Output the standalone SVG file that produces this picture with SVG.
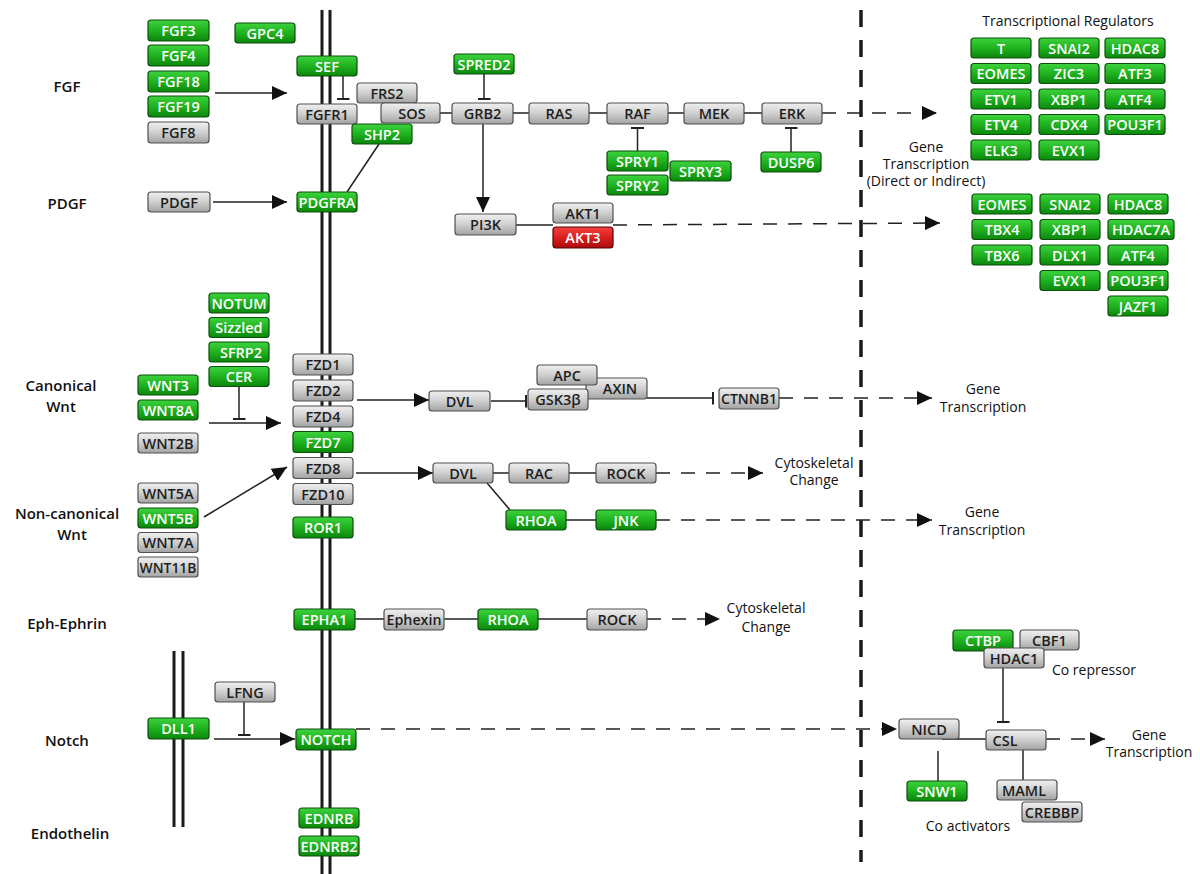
<svg xmlns="http://www.w3.org/2000/svg" width="1200" height="874" viewBox="0 0 1200 874">
<defs>
<linearGradient id="gg" x1="0" y1="0" x2="0" y2="1"><stop offset="0" stop-color="#3fd23f"/><stop offset="0.5" stop-color="#1fb21f"/><stop offset="1" stop-color="#0c860c"/></linearGradient>
<linearGradient id="gy" x1="0" y1="0" x2="0" y2="1"><stop offset="0" stop-color="#f0f0f0"/><stop offset="0.5" stop-color="#cfcfcf"/><stop offset="1" stop-color="#a2a2a2"/></linearGradient>
<linearGradient id="gr" x1="0" y1="0" x2="0" y2="1"><stop offset="0" stop-color="#f04040"/><stop offset="0.5" stop-color="#dc1e1e"/><stop offset="1" stop-color="#a80c0c"/></linearGradient>
<marker id="arr" viewBox="0 0 15 14" refX="15" refY="7" markerWidth="15" markerHeight="14" markerUnits="userSpaceOnUse" orient="auto"><path d="M0,0L15,7L0,14z" fill="#111"/></marker>
<marker id="tee" viewBox="0 0 2 13" refX="1" refY="6.5" markerWidth="2" markerHeight="13" markerUnits="userSpaceOnUse" orient="auto"><rect width="2" height="13" fill="#222"/></marker>
</defs>
<style>
.node rect{rx:3;ry:3;stroke-width:1.2}
.node text{font-family:"Open Sans","Liberation Sans",sans-serif;font-size:14.5px;font-weight:600;text-anchor:middle}
.g rect{fill:url(#gg);stroke:#0a4f0a}
.g text{fill:#fff}
.y rect{fill:url(#gy);stroke:#505050}
.y text{fill:#1e1e1e}
.r rect{fill:url(#gr);stroke:#5a0000}
.r text{fill:#fff}
.c line,.c path{stroke:#222;stroke-width:1.5;fill:none}
.c .d{stroke-dasharray:14 11}
.mem{stroke:#1a1a1a;stroke-width:3}
.vd{stroke:#1a1a1a;stroke-width:3.5;stroke-dasharray:17 13}
.lab{font-family:"Open Sans","Liberation Sans",sans-serif;font-size:15px;font-weight:600;fill:#111;text-anchor:middle}
.ann{font-family:"Open Sans","Liberation Sans",sans-serif;font-size:14px;fill:#111;text-anchor:middle}
</style>
<rect width="1200" height="874" fill="#fff"/>
<g id="membranes">
<line class="mem" x1="322" y1="10" x2="322" y2="874"/>
<line class="mem" x1="330" y1="10" x2="330" y2="874"/>
<line class="mem" x1="174" y1="651" x2="174" y2="827"/>
<line class="mem" x1="183" y1="651" x2="183" y2="827"/>
<line class="vd" x1="861" y1="10" x2="861" y2="862"/>
</g>
<g id="labels">
<text class="lab" x="67" y="92">FGF</text>
<text class="lab" x="67" y="209">PDGF</text>
<text class="lab" x="61" y="391">Canonical</text>
<text class="lab" x="61" y="411.5">Wnt</text>
<text class="lab" x="67" y="519">Non-canonical</text>
<text class="lab" x="72" y="539.5">Wnt</text>
<text class="lab" x="67" y="629">Eph-Ephrin</text>
<text class="lab" x="67" y="746">Notch</text>
<text class="lab" x="70" y="839">Endothelin</text>
<text class="ann" x="1068" y="26">Transcriptional Regulators</text>
<text class="ann" x="926" y="152">Gene</text>
<text class="ann" x="926" y="169">Transcription</text>
<text class="ann" x="926" y="186">(Direct or Indirect)</text>
<text class="ann" x="983" y="394">Gene</text>
<text class="ann" x="983" y="412">Transcription</text>
<text class="ann" x="814" y="468">Cytoskeletal</text>
<text class="ann" x="814" y="485">Change</text>
<text class="ann" x="982" y="517">Gene</text>
<text class="ann" x="982" y="535">Transcription</text>
<text class="ann" x="766" y="613">Cytoskeletal</text>
<text class="ann" x="766" y="632">Change</text>
<text class="ann" x="1094" y="675">Co repressor</text>
<text class="ann" x="968" y="831">Co activators</text>
<text class="ann" x="1149" y="740">Gene</text>
<text class="ann" x="1149" y="757">Transcription</text>
</g>
<g id="connectors" class="c">
<line x1="215" y1="93" x2="287" y2="93" marker-end="url(#arr)"/>
<line x1="343" y1="76" x2="343" y2="99" marker-end="url(#tee)"/>
<line x1="440" y1="113" x2="452" y2="113"/>
<line x1="513" y1="113" x2="529" y2="113"/>
<line x1="589" y1="113" x2="607" y2="113"/>
<line x1="668" y1="113" x2="684" y2="113"/>
<line x1="744" y1="113" x2="762" y2="113"/>
<line class="d" x1="822" y1="113" x2="937" y2="113" marker-end="url(#arr)"/>
<line x1="484" y1="74" x2="484" y2="99" marker-end="url(#tee)"/>
<line x1="483" y1="124" x2="483" y2="212" marker-end="url(#arr)"/>
<line x1="637.5" y1="151" x2="637.5" y2="128" marker-end="url(#tee)"/>
<line x1="791" y1="152" x2="791" y2="128" marker-end="url(#tee)"/>
<line x1="379" y1="144" x2="347" y2="192"/>
<line x1="213" y1="202" x2="287" y2="202" marker-end="url(#arr)"/>
<line x1="516" y1="225" x2="553" y2="225"/>
<line class="d" x1="613" y1="225" x2="940" y2="223" marker-end="url(#arr)"/>
<line x1="209" y1="423" x2="281" y2="423" marker-end="url(#arr)"/>
<line x1="239" y1="387" x2="239" y2="419" marker-end="url(#tee)"/>
<line x1="204" y1="517" x2="287" y2="467" marker-end="url(#arr)"/>
<line x1="357" y1="400" x2="429" y2="400" marker-end="url(#arr)"/>
<line x1="491" y1="401" x2="526" y2="401" marker-end="url(#tee)"/>
<line x1="647" y1="398" x2="713" y2="398" marker-end="url(#tee)"/>
<line class="d" x1="779" y1="398" x2="932" y2="398" marker-end="url(#arr)"/>
<line x1="356" y1="473" x2="433" y2="473" marker-end="url(#arr)"/>
<line x1="493" y1="473" x2="509" y2="473"/>
<line x1="569" y1="473" x2="596" y2="473"/>
<line class="d" x1="656" y1="473" x2="763" y2="473" marker-end="url(#arr)"/>
<line x1="487" y1="483" x2="510" y2="510"/>
<line x1="566" y1="520" x2="596" y2="520"/>
<line class="d" x1="656" y1="520" x2="932" y2="520" marker-end="url(#arr)"/>
<line x1="355" y1="619" x2="384" y2="619"/>
<line x1="444" y1="619" x2="478" y2="619"/>
<line x1="538" y1="619" x2="587" y2="619"/>
<line class="d" x1="647" y1="619" x2="720" y2="619" marker-end="url(#arr)"/>
<line x1="244" y1="702" x2="244" y2="735" marker-end="url(#tee)"/>
<line x1="214" y1="739" x2="295" y2="739" marker-end="url(#arr)"/>
<line class="d" x1="356" y1="729" x2="897" y2="729" marker-end="url(#arr)"/>
<line x1="1003" y1="668" x2="1003" y2="722" marker-end="url(#tee)"/>
<line x1="942" y1="739" x2="986" y2="739"/>
<line x1="938" y1="751" x2="938" y2="781"/>
<line x1="1023" y1="750" x2="1023" y2="780"/>
<line class="d" x1="1046" y1="739" x2="1105" y2="739" marker-end="url(#arr)"/>
</g>
<g id="n-fgf3" class="node g"><rect x="148" y="20" width="61" height="21"/><text x="178.5" y="36">FGF3</text></g>
<g id="n-fgf4" class="node g"><rect x="148" y="45" width="61" height="21"/><text x="178.5" y="61">FGF4</text></g>
<g id="n-fgf18" class="node g"><rect x="148" y="71" width="61" height="21"/><text x="178.5" y="87">FGF18</text></g>
<g id="n-fgf19" class="node g"><rect x="148" y="96" width="61" height="21"/><text x="178.5" y="112">FGF19</text></g>
<g id="n-fgf8" class="node y"><rect x="148" y="122" width="61" height="21"/><text x="178.5" y="138">FGF8</text></g>
<g id="n-gpc4" class="node g"><rect x="235" y="23" width="60" height="20"/><text x="265" y="38.5">GPC4</text></g>
<g id="n-sef" class="node g"><rect x="297" y="56" width="60" height="20"/><text x="327" y="71.5">SEF</text></g>
<g id="n-frs2" class="node y"><rect x="357" y="83" width="60" height="20"/><text x="387" y="98.5">FRS2</text></g>
<g id="n-sos" class="node y"><rect x="381" y="103" width="59" height="20"/><text x="412" y="118.5">SOS</text></g>
<g id="n-fgfr1" class="node y"><rect x="297" y="104" width="60" height="20"/><text x="327" y="119.5">FGFR1</text></g>
<g id="n-shp2" class="node g"><rect x="352" y="124" width="60" height="20"/><text x="382" y="139.5">SHP2</text></g>
<g id="n-spred2" class="node g"><rect x="454" y="54" width="60" height="20"/><text x="484" y="69.5">SPRED2</text></g>
<g id="n-grb2" class="node y"><rect x="452" y="103" width="61" height="21"/><text x="482.5" y="119">GRB2</text></g>
<g id="n-ras" class="node y"><rect x="529" y="103" width="60" height="21"/><text x="559" y="119">RAS</text></g>
<g id="n-raf" class="node y"><rect x="607" y="103" width="61" height="21"/><text x="637.5" y="119">RAF</text></g>
<g id="n-mek" class="node y"><rect x="684" y="103" width="60" height="21"/><text x="714" y="119">MEK</text></g>
<g id="n-erk" class="node y"><rect x="762" y="103" width="60" height="21"/><text x="792" y="119">ERK</text></g>
<g id="n-spry1" class="node g"><rect x="607" y="151" width="61" height="20"/><text x="637.5" y="166.5">SPRY1</text></g>
<g id="n-spry2" class="node g"><rect x="607" y="175" width="61" height="20"/><text x="637.5" y="190.5">SPRY2</text></g>
<g id="n-spry3" class="node g"><rect x="670" y="161" width="61" height="20"/><text x="700.5" y="176.5">SPRY3</text></g>
<g id="n-dusp6" class="node g"><rect x="761" y="152" width="60" height="20"/><text x="791" y="167.5">DUSP6</text></g>
<g id="n-pdgf" class="node y"><rect x="148" y="192" width="62" height="20"/><text x="179" y="207.5">PDGF</text></g>
<g id="n-pdgfra" class="node g"><rect x="297" y="192" width="60" height="20"/><text x="327" y="207.5" textLength="57" lengthAdjust="spacingAndGlyphs">PDGFRA</text></g>
<g id="n-pi3k" class="node y"><rect x="455" y="214" width="61" height="21"/><text x="485.5" y="230">PI3K</text></g>
<g id="n-akt1" class="node y"><rect x="553" y="203" width="60" height="20"/><text x="583" y="218.5">AKT1</text></g>
<g id="n-akt3" class="node r"><rect x="553" y="227" width="60" height="21"/><text x="583" y="243">AKT3</text></g>
<g id="n-t" class="node g"><rect x="971" y="38" width="60" height="20"/><text x="1001" y="53.5">T</text></g>
<g id="n-snai2a" class="node g"><rect x="1039" y="38" width="60" height="20"/><text x="1069" y="53.5">SNAI2</text></g>
<g id="n-hdac8a" class="node g"><rect x="1105" y="38" width="60" height="20"/><text x="1135" y="53.5">HDAC8</text></g>
<g id="n-eomesa" class="node g"><rect x="971" y="63.5" width="60" height="20"/><text x="1001" y="79">EOMES</text></g>
<g id="n-zic3" class="node g"><rect x="1039" y="63.5" width="60" height="20"/><text x="1069" y="79">ZIC3</text></g>
<g id="n-atf3" class="node g"><rect x="1105" y="63.5" width="60" height="20"/><text x="1135" y="79">ATF3</text></g>
<g id="n-etv1" class="node g"><rect x="971" y="89" width="60" height="20"/><text x="1001" y="104.5">ETV1</text></g>
<g id="n-xbp1a" class="node g"><rect x="1039" y="89" width="60" height="20"/><text x="1069" y="104.5">XBP1</text></g>
<g id="n-atf4a" class="node g"><rect x="1105" y="89" width="60" height="20"/><text x="1135" y="104.5">ATF4</text></g>
<g id="n-etv4" class="node g"><rect x="971" y="114.5" width="60" height="20"/><text x="1001" y="130">ETV4</text></g>
<g id="n-cdx4" class="node g"><rect x="1039" y="114.5" width="60" height="20"/><text x="1069" y="130">CDX4</text></g>
<g id="n-pou3f1a" class="node g"><rect x="1105" y="114.5" width="60" height="20"/><text x="1135" y="130">POU3F1</text></g>
<g id="n-elk3" class="node g"><rect x="971" y="140" width="60" height="20"/><text x="1001" y="155.5">ELK3</text></g>
<g id="n-evx1a" class="node g"><rect x="1039" y="140" width="60" height="20"/><text x="1069" y="155.5">EVX1</text></g>
<g id="n-eomesb" class="node g"><rect x="972" y="194" width="60" height="20"/><text x="1002" y="209.5">EOMES</text></g>
<g id="n-snai2b" class="node g"><rect x="1040" y="194" width="60" height="20"/><text x="1070" y="209.5">SNAI2</text></g>
<g id="n-hdac8b" class="node g"><rect x="1108" y="194" width="60" height="20"/><text x="1138" y="209.5">HDAC8</text></g>
<g id="n-tbx4" class="node g"><rect x="972" y="219.5" width="60" height="20"/><text x="1002" y="235">TBX4</text></g>
<g id="n-xbp1b" class="node g"><rect x="1040" y="219.5" width="60" height="20"/><text x="1070" y="235">XBP1</text></g>
<g id="n-hdac7a" class="node g"><rect x="1108" y="219.5" width="66" height="20"/><text x="1141" y="235">HDAC7A</text></g>
<g id="n-tbx6" class="node g"><rect x="972" y="245" width="60" height="20"/><text x="1002" y="260.5">TBX6</text></g>
<g id="n-dlx1" class="node g"><rect x="1040" y="245" width="60" height="20"/><text x="1070" y="260.5">DLX1</text></g>
<g id="n-atf4b" class="node g"><rect x="1108" y="245" width="60" height="20"/><text x="1138" y="260.5">ATF4</text></g>
<g id="n-evx1b" class="node g"><rect x="1040" y="270.5" width="60" height="20"/><text x="1070" y="286">EVX1</text></g>
<g id="n-pou3f1b" class="node g"><rect x="1108" y="270.5" width="60" height="20"/><text x="1138" y="286">POU3F1</text></g>
<g id="n-jazf1" class="node g"><rect x="1108" y="296" width="60" height="20"/><text x="1138" y="311.5">JAZF1</text></g>
<g id="n-notum" class="node g"><rect x="209" y="293" width="60" height="20"/><text x="239" y="308.5">NOTUM</text></g>
<g id="n-sizzled" class="node g"><rect x="209" y="317.5" width="60" height="20"/><text x="239" y="333">Sizzled</text></g>
<g id="n-sfrp2" class="node g"><rect x="209" y="342" width="60" height="20"/><text x="241" y="357.5">SFRP2</text></g>
<g id="n-cer" class="node g"><rect x="209" y="366.5" width="60" height="20"/><text x="239" y="382">CER</text></g>
<g id="n-wnt3" class="node g"><rect x="138" y="375" width="60" height="20"/><text x="168" y="390.5">WNT3</text></g>
<g id="n-wnt8a" class="node g"><rect x="138" y="400" width="60" height="20"/><text x="168" y="415.5">WNT8A</text></g>
<g id="n-wnt2b" class="node y"><rect x="138" y="433" width="60" height="20"/><text x="168" y="448.5">WNT2B</text></g>
<g id="n-wnt5a" class="node y"><rect x="138" y="483" width="60" height="20"/><text x="168" y="498.5">WNT5A</text></g>
<g id="n-wnt5b" class="node g"><rect x="138" y="508" width="60" height="20"/><text x="168" y="523.5">WNT5B</text></g>
<g id="n-wnt7a" class="node y"><rect x="138" y="532.5" width="60" height="20"/><text x="168" y="548">WNT7A</text></g>
<g id="n-wnt11b" class="node y"><rect x="138" y="557" width="60" height="20"/><text x="168" y="572.5" textLength="57" lengthAdjust="spacingAndGlyphs">WNT11B</text></g>
<g id="n-fzd1" class="node y"><rect x="293" y="354" width="60" height="21"/><text x="323" y="370">FZD1</text></g>
<g id="n-fzd2" class="node y"><rect x="293" y="380" width="60" height="21"/><text x="323" y="396">FZD2</text></g>
<g id="n-fzd4" class="node y"><rect x="293" y="406" width="60" height="21"/><text x="323" y="422">FZD4</text></g>
<g id="n-fzd7" class="node g"><rect x="293" y="431.5" width="60" height="21"/><text x="323" y="447.5">FZD7</text></g>
<g id="n-fzd8" class="node y"><rect x="293" y="457.5" width="60" height="21"/><text x="323" y="473.5">FZD8</text></g>
<g id="n-fzd10" class="node y"><rect x="293" y="483.5" width="60" height="21"/><text x="323" y="499.5">FZD10</text></g>
<g id="n-ror1" class="node g"><rect x="293" y="517" width="60" height="21"/><text x="323" y="533">ROR1</text></g>
<g id="n-dvl1" class="node y"><rect x="429" y="391" width="61" height="20"/><text x="459.5" y="406.5">DVL</text></g>
<g id="n-axin" class="node y"><rect x="586" y="378" width="61" height="21"/><text x="620" y="394">AXIN</text></g>
<g id="n-apc" class="node y"><rect x="537" y="365" width="60" height="20"/><text x="567" y="380.5">APC</text></g>
<g id="n-gsk3b" class="node y"><rect x="528" y="389" width="60" height="21"/><text x="558" y="405">GSK3β</text></g>
<g id="n-ctnnb1" class="node y"><rect x="719" y="388" width="60" height="21"/><text x="749" y="404" textLength="56" lengthAdjust="spacingAndGlyphs">CTNNB1</text></g>
<g id="n-dvl2" class="node y"><rect x="433" y="463" width="60" height="20"/><text x="463" y="478.5">DVL</text></g>
<g id="n-rac" class="node y"><rect x="509" y="463" width="60" height="20"/><text x="539" y="478.5">RAC</text></g>
<g id="n-rock1" class="node y"><rect x="596" y="463" width="60" height="20"/><text x="626" y="478.5">ROCK</text></g>
<g id="n-rhoa1" class="node g"><rect x="506" y="510" width="60" height="20"/><text x="536" y="525.5">RHOA</text></g>
<g id="n-jnk" class="node g"><rect x="596" y="510" width="60" height="20"/><text x="626" y="525.5">JNK</text></g>
<g id="n-epha1" class="node g"><rect x="294" y="609" width="61" height="21"/><text x="324.5" y="625">EPHA1</text></g>
<g id="n-ephexin" class="node y"><rect x="384" y="609" width="60" height="21"/><text x="414" y="625" textLength="55" lengthAdjust="spacingAndGlyphs">Ephexin</text></g>
<g id="n-rhoa2" class="node g"><rect x="478" y="609" width="60" height="21"/><text x="508" y="625">RHOA</text></g>
<g id="n-rock2" class="node y"><rect x="587" y="609" width="60" height="21"/><text x="617" y="625">ROCK</text></g>
<g id="n-dll1" class="node g"><rect x="148" y="718" width="61" height="21"/><text x="178.5" y="734">DLL1</text></g>
<g id="n-lfng" class="node y"><rect x="215" y="682" width="60" height="20"/><text x="245" y="697.5">LFNG</text></g>
<g id="n-notch" class="node g"><rect x="296" y="729" width="60" height="21"/><text x="326" y="745">NOTCH</text></g>
<g id="n-ednrb" class="node g"><rect x="299" y="808" width="60" height="20"/><text x="329" y="823.5">EDNRB</text></g>
<g id="n-ednrb2" class="node g"><rect x="299" y="836" width="60" height="20"/><text x="329" y="851.5">EDNRB2</text></g>
<g id="n-ctbp" class="node g"><rect x="953" y="630" width="60" height="21"/><text x="983" y="646">CTBP</text></g>
<g id="n-cbf1" class="node y"><rect x="1020" y="630" width="59" height="20"/><text x="1049.5" y="645.5">CBF1</text></g>
<g id="n-hdac1" class="node y"><rect x="984" y="648" width="60" height="20"/><text x="1014" y="663.5">HDAC1</text></g>
<g id="n-nicd" class="node y"><rect x="899" y="719" width="60" height="20"/><text x="929" y="734.5">NICD</text></g>
<g id="n-csl" class="node y"><rect x="986" y="730" width="60" height="20"/><text x="1005" y="745.5">CSL</text></g>
<g id="n-snw1" class="node g"><rect x="907" y="781" width="60" height="20"/><text x="937" y="796.5">SNW1</text></g>
<g id="n-maml" class="node y"><rect x="997" y="780" width="60" height="20"/><text x="1024" y="795.5">MAML</text></g>
<g id="n-crebbp" class="node y"><rect x="1022" y="802" width="60" height="20"/><text x="1052" y="817.5">CREBBP</text></g>
</svg>
